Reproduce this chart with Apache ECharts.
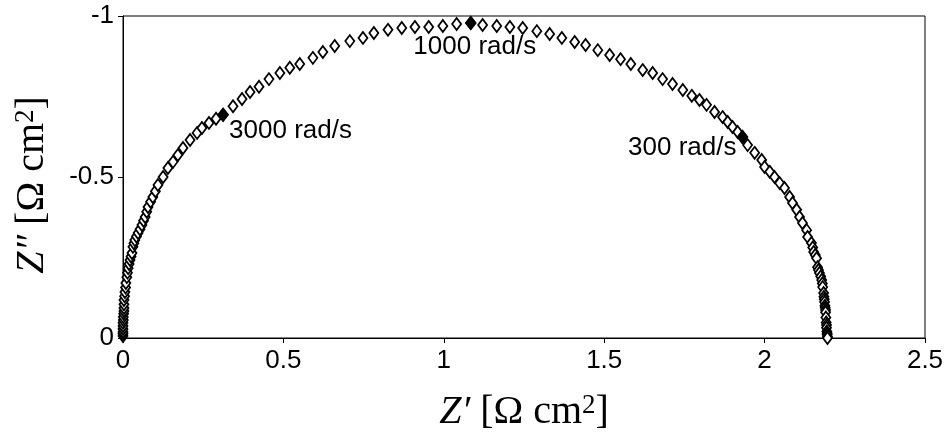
<!DOCTYPE html>
<html>
<head>
<meta charset="utf-8">
<script src="https://cdn.jsdelivr.net/npm/echarts@6/dist/echarts.min.js"></script>
<style>
  html, body { margin: 0; padding: 0; background: #fff; }
  #chart { width: 952px; height: 446px; }
</style>
</head>
<body>
<div id="chart"></div>
<script>
// impedance spectrum (Z' and Z'' in ohm cm2)
const zRe = [
  0.000, 0.000, 0.000, 0.000, 0.000, 0.000, 0.001, 0.001, 0.002, 0.003,
  0.003, 0.003, 0.003, 0.005, 0.006, 0.008, 0.009, 0.012, 0.014, 0.016,
  0.019, 0.022, 0.025, 0.028, 0.031, 0.034, 0.037, 0.042, 0.047, 0.053,
  0.059, 0.064, 0.069, 0.074, 0.078, 0.086, 0.093, 0.101, 0.109, 0.125,
  0.140, 0.156, 0.171, 0.187, 0.209, 0.231, 0.246, 0.268, 0.290, 0.312,
  0.343, 0.371, 0.396, 0.424, 0.455, 0.489, 0.520, 0.551, 0.592, 0.623,
  0.660, 0.707, 0.748, 0.782, 0.826, 0.869, 0.910, 0.953, 0.997, 1.040,
  1.084, 1.121, 1.165, 1.206, 1.246, 1.290, 1.330, 1.368, 1.408, 1.442,
  1.480, 1.517, 1.551, 1.583, 1.620, 1.651, 1.682, 1.713, 1.745, 1.773,
  1.797, 1.819, 1.844, 1.869, 1.885, 1.900, 1.916, 1.931, 1.947, 1.969,
  1.991, 2.000, 2.016, 2.031, 2.047, 2.062, 2.078, 2.087, 2.100, 2.109,
  2.118, 2.131, 2.134, 2.146, 2.150, 2.153, 2.158, 2.162, 2.165, 2.168,
  2.171, 2.175, 2.178, 2.180, 2.181, 2.184, 2.185, 2.186, 2.187, 2.188,
  2.189, 2.190, 2.190, 2.191, 2.192, 2.193, 2.193, 2.194, 2.195, 2.195,
  2.196, 2.196
];
const zIm = [
  -0.006, -0.013, -0.019, -0.028, -0.037, -0.047, -0.056, -0.065, -0.075, -0.084,
  -0.093, -0.105, -0.118, -0.130, -0.143, -0.157, -0.171, -0.189, -0.203, -0.217,
  -0.230, -0.242, -0.253, -0.264, -0.283, -0.294, -0.304, -0.315, -0.326, -0.338,
  -0.351, -0.364, -0.376, -0.392, -0.407, -0.423, -0.438, -0.456, -0.475, -0.500,
  -0.528, -0.547, -0.568, -0.590, -0.615, -0.637, -0.652, -0.668, -0.681, -0.693,
  -0.720, -0.742, -0.764, -0.780, -0.804, -0.823, -0.839, -0.851, -0.870, -0.888,
  -0.907, -0.922, -0.932, -0.947, -0.957, -0.963, -0.966, -0.966, -0.969, -0.975,
  -0.978, -0.972, -0.969, -0.966, -0.963, -0.953, -0.944, -0.932, -0.919, -0.910,
  -0.894, -0.879, -0.866, -0.851, -0.832, -0.823, -0.804, -0.789, -0.770, -0.752,
  -0.739, -0.724, -0.702, -0.686, -0.671, -0.655, -0.640, -0.624, -0.599, -0.575,
  -0.553, -0.531, -0.516, -0.500, -0.481, -0.466, -0.438, -0.419, -0.398, -0.376,
  -0.357, -0.335, -0.314, -0.295, -0.281, -0.267, -0.258, -0.248, -0.220, -0.211,
  -0.202, -0.191, -0.180, -0.169, -0.158, -0.140, -0.128, -0.120, -0.112, -0.100,
  -0.094, -0.087, -0.080, -0.064, -0.048, -0.040, -0.032, -0.020, -0.015, -0.010,
  -0.004, 0.000
];

// highlighted frequencies
const markLabels = ['3000 rad/s', '1000 rad/s', '300 rad/s'];
const markRe = [0.312, 1.084, 1.931];
const markIm = [-0.693, -0.978, -0.624];

const xTicks = [0, 2.5, 0.5];   // min, max, step
const yTicks = [-1, 0, 0.5];

const sans = '"Liberation Sans", Arial, sans-serif';
const serif = '"Liberation Serif", "Times New Roman", serif';

const labelPos = [
  { position: 'right', distance: 0, offset: [0, 16] },
  { position: 'bottom', distance: 3, offset: [4, 0] },
  { position: 'left', distance: 0, offset: [0, 11] },
];

const titleRich = {
  i: { fontFamily: serif, fontSize: 40, fontStyle: 'italic', color: '#000' },
  t: { fontFamily: serif, fontSize: 40, color: '#000' },
  s: { fontFamily: serif, fontSize: 27, color: '#000', verticalAlign: 'top', padding: [0, 0, 14, 0] },
};

const chart = echarts.init(document.getElementById('chart'));

chart.setOption({
  backgroundColor: '#fff',
  animation: false,
  grid: {
    left: 123, right: 27, top: 16, bottom: 108,
    show: true, borderColor: '#000', borderWidth: 1,
  },
  xAxis: {
    type: 'value',
    min: xTicks[0], max: xTicks[1], interval: xTicks[2],
    name: '{i|Z′}{t| [Ω cm}{s|2}{t|]}',
    nameLocation: 'middle',
    nameGap: 54,
    nameTextStyle: { fontFamily: serif, fontSize: 40, color: '#000', rich: titleRich },
    axisLine: { onZero: false, lineStyle: { color: '#000', width: 1 } },
    axisTick: { show: true, length: 5, lineStyle: { color: '#000' } },
    axisLabel: { fontFamily: sans, fontSize: 26, color: '#000', margin: 10 },
    splitLine: { show: false },
  },
  yAxis: {
    type: 'value',
    inverse: true,
    min: yTicks[0], max: yTicks[1], interval: yTicks[2],
    name: '{i|Z″}{t| [Ω cm}{s|2}{t|]}',
    nameLocation: 'middle',
    nameGap: 70,
    nameTextStyle: { fontFamily: serif, fontSize: 40, color: '#000', rich: titleRich, padding: [0, 16, 0, 0] },
    axisLine: { onZero: false, lineStyle: { color: '#000', width: 1 } },
    axisTick: { show: true, length: 5, lineStyle: { color: '#000' } },
    axisLabel: { fontFamily: sans, fontSize: 26, color: '#000', margin: 9 },
    splitLine: { show: false },
  },
  series: [
    {
      type: 'scatter',
      data: zRe.map((x, i) => [x, zIm[i]]),
      symbol: 'diamond',
      symbolSize: [9, 12],
      itemStyle: { color: '#fff', borderColor: '#000', borderWidth: 1.8, opacity: 1 },
      z: 2,
    },
    {
      type: 'scatter',
      data: markRe.map((x, i) => ({
        value: [x, markIm[i]],
        label: Object.assign({ show: true, formatter: markLabels[i] }, labelPos[i]),
      })),
      symbol: 'diamond',
      symbolSize: [12, 15],
      itemStyle: { color: '#000', opacity: 1 },
      label: { fontFamily: sans, fontSize: 26, color: '#000', opacity: 1 },
      z: 3,
    },
  ],
});
</script>
</body>
</html>
